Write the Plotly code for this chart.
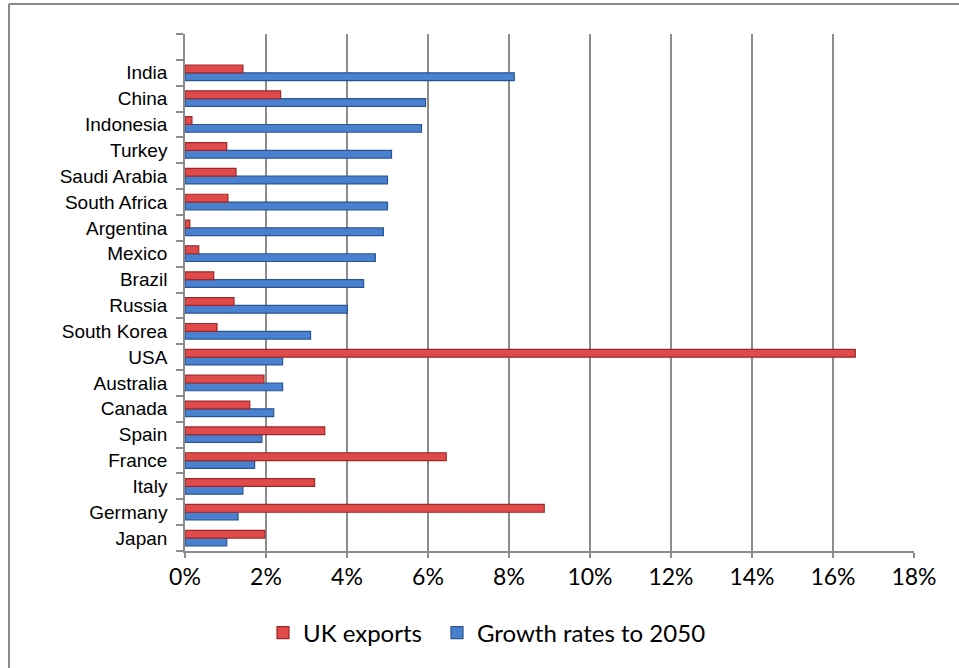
import plotly.graph_objects as go

countries = ["Japan", "Germany", "Italy", "France", "Spain", "Canada", "Australia", "USA",
             "South Korea", "Russia", "Brazil", "Mexico", "Argentina", "South Africa",
             "Saudi Arabia", "Turkey", "Indonesia", "China", "India"]
uk_exports = [1.97, 8.87, 3.20, 6.45, 3.45, 1.60, 1.95, 16.55,
              0.79, 1.21, 0.71, 0.34, 0.12, 1.06,
              1.26, 1.03, 0.17, 2.36, 1.43]
growth_2050 = [1.03, 1.31, 1.43, 1.72, 1.90, 2.19, 2.41, 2.41,
               3.10, 4.01, 4.41, 4.70, 4.90, 5.00,
               5.00, 5.10, 5.84, 5.94, 8.13]
x_ticks = [0, 2, 4, 6, 8, 10, 12, 14, 16, 18]

pos = list(range(len(countries)))
uk = [v / 100 for v in uk_exports]
gr = [v / 100 for v in growth_2050]

W, H = 959, 668
L, R, T, B = 185, 45, 34, 117
pw, ph = W - L - R, H - T - B

fig = go.Figure()
fig.add_trace(go.Bar(
    y=pos, x=gr, orientation="h", name="Growth rates to 2050", legend="legend2",
    marker=dict(color="#4A80D0", line=dict(color="#2A5590", width=1.2)),
))
fig.add_trace(go.Bar(
    y=pos, x=uk, orientation="h", name="UK exports", legend="legend",
    marker=dict(color="#E04A4A", line=dict(color="#9A2A2A", width=1.2)),
))

grid = "#8C8C8C"
leg_y = -(633 - (T + ph)) / ph
leg_font = dict(family="Lato", size=24, color="black")
fig.update_layout(
    width=W, height=H,
    margin=dict(l=L, r=R, t=T, b=B, pad=0),
    paper_bgcolor="white", plot_bgcolor="white",
    barmode="group", bargap=0.40, bargroupgap=0,
    showlegend=True,
    legend=dict(orientation="h", x=(263 - L) / pw, xanchor="left",
                y=leg_y, yanchor="middle", font=leg_font, itemclick=False),
    legend2=dict(orientation="h", x=(437 - L) / pw, xanchor="left",
                 y=leg_y, yanchor="middle", font=leg_font, itemclick=False),
    xaxis=dict(
        range=[0, 0.18], tickvals=[v / 100 for v in x_ticks],
        ticktext=[f"{v}%" for v in x_ticks],
        showgrid=True, gridcolor=grid, gridwidth=1.6,
        showline=True, linecolor=grid, linewidth=1.6,
        ticks="outside", ticklen=5, tickcolor=grid, tickwidth=1.6,
        tickfont=dict(family="Lato", size=23, color="black"),
        zeroline=False, fixedrange=True,
    ),
    yaxis=dict(
        range=[-0.5, len(countries) + 0.5],
        tickvals=pos, ticktext=countries,
        ticks="", showgrid=False, zeroline=False,
        showline=True, linecolor=grid, linewidth=1.6,
        tickfont=dict(family="Liberation Sans, Arial", size=19, color="black"),
        ticklabelstandoff=12,
        minor=dict(ticks="outside", ticklen=7, tickcolor=grid, tickwidth=1.6,
                   tickvals=[i - 0.5 for i in range(len(countries) + 2)], showgrid=False),
        fixedrange=True,
    ),
)

# outer chart frame: only the top and left edges fall inside the picture
fig.add_shape(type="line", xref="paper", yref="paper",
              x0=(9 - L) / pw, x1=(9 - L) / pw,
              y0=-(H + 50 - (T + ph)) / ph, y1=1 + (T - 4) / ph,
              line=dict(color="#8A8A8A", width=2))
fig.add_shape(type="line", xref="paper", yref="paper",
              x0=(9 - L) / pw, x1=(W + 50 - L) / pw,
              y0=1 + (T - 4) / ph, y1=1 + (T - 4) / ph,
              line=dict(color="#8A8A8A", width=2))

fig.write_html("out.html")
